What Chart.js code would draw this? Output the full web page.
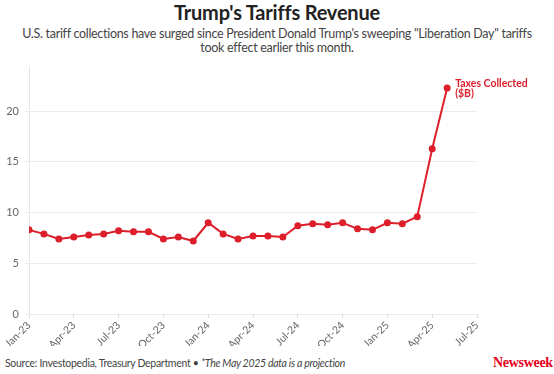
<!DOCTYPE html>
<html>
<head>
<meta charset="utf-8">
<script src="https://cdn.jsdelivr.net/npm/chart.js@4"></script>
<style>
  body { margin: 0; width: 554px; height: 374px; background: #fff; position: relative; overflow: hidden; font-family: Lato, sans-serif; }
  #title { position: absolute; top: 0; left: 0; width: 554px; text-align: center; font-size: 20px; font-weight: bold; color: #222; line-height: 24px; letter-spacing: -0.2px; }
  #subtitle { position: absolute; top: 27px; left: 0; width: 554px; text-align: center; font-size: 12.5px; color: #444; line-height: 13.5px; letter-spacing: -0.3px; white-space: nowrap; }
  #wrap { position: absolute; left: 0; top: 54px; width: 554px; height: 292px; }
  #footer { position: absolute; left: 5px; top: 357px; font-size: 10.5px; color: #444; letter-spacing: -0.3px; white-space: nowrap; }
  #logo { position: absolute; left: 493px; top: 355px; font-family: "Liberation Serif", serif; font-weight: bold; font-size: 14px; color: #e4001b; letter-spacing: -0.3px; }
</style>
</head>
<body>
<div id="title">Trump's Tariffs Revenue</div>
<div id="subtitle">U.S. tariff collections have surged since President Donald Trump's sweeping "Liberation Day" tariffs<br>took effect earlier this month.</div>
<div id="wrap"><canvas id="myChart"></canvas></div>
<div id="footer">Source: Investopedia, Treasury Department • <i>*The May 2025 data is a projection</i></div>
<div id="logo">Newsweek</div>
<script>
// months since Jan-23
const months = [0, 1, 2, 3, 4, 5, 6, 7, 8, 9, 10, 11, 12, 13, 14, 15, 16, 17, 18, 19, 20, 21, 22, 23, 24, 25, 26, 27, 28];
const taxes = [8.3, 7.9, 7.4, 7.6, 7.8, 7.9, 8.2, 8.1, 8.1, 7.4, 7.6, 7.2, 9.0, 7.9, 7.4, 7.7, 7.7, 7.6,
  8.7, 8.9, 8.8, 9.0, 8.4, 8.3, 9.0, 8.9, 9.6, 16.3, 22.3];
const tickLabels = ['Jan-23', 'Apr-23', 'Jul-23', 'Oct-23', 'Jan-24', 'Apr-24', 'Jul-24', 'Oct-24', 'Jan-25', 'Apr-25', 'Jul-25'];
const seriesName = ['Taxes Collected', '($B)'];

const red = '#dc1f2b';

const endLabel = {
  id: 'endLabel',
  afterDatasetsDraw(chart) {
    const ctx = chart.ctx;
    const pt = chart.getDatasetMeta(0).data[taxes.length - 1];
    ctx.save();
    ctx.fillStyle = red;
    ctx.font = 'bold 10.5px Lato';
    ctx.textBaseline = 'middle';
    ctx.fillText(seriesName[0], pt.x + 8, pt.y - 4);
    ctx.fillText(seriesName[1], pt.x + 8, pt.y + 5.5);
    ctx.restore();
  }
};

const ctx = document.getElementById('myChart').getContext('2d');
const chart = new Chart(ctx, {
  type: 'line',
  data: {
    datasets: [{
      label: seriesName.join(' '),
      data: months.map((m, i) => ({ x: m, y: taxes[i] })),
      borderColor: red,
      backgroundColor: red,
      borderWidth: 2,
      pointRadius: 2.5,
      tension: 0
    }]
  },
  options: {
    responsive: true,
    maintainAspectRatio: false,
    animation: false,
    layout: { padding: { top: 2, right: 77, left: 0, bottom: 0 } },
    plugins: { legend: { display: false }, tooltip: { enabled: false } },
    scales: {
      x: {
        type: 'linear',
        min: 0,
        max: 30,
        afterBuildTicks: s => { s.ticks = tickLabels.map((t, i) => ({ value: i * 3 })); },
        afterFit: s => { s.height = 32; },
        ticks: {
          callback: (v) => tickLabels[v / 3],
          maxRotation: 45,
          minRotation: 45,
          color: '#666',
          font: { family: 'Lato', size: 10.5 },
          padding: 1
        },
        grid: { drawOnChartArea: false, drawTicks: true, tickLength: 4, color: '#dcdcdc' },
        border: { display: false }
      },
      y: {
        min: 0,
        max: 24.4,
        afterFit: s => { s.width = 29; },
        ticks: {
          stepSize: 5,
          includeBounds: false,
          color: '#666',
          font: { family: 'Lato', size: 11 },
          padding: 6
        },
        grid: { color: '#ececec', tickLength: 4 },
        border: { color: '#e6e6e6' }
      }
    }
  },
  plugins: [endLabel]
});
</script>
</body>
</html>
